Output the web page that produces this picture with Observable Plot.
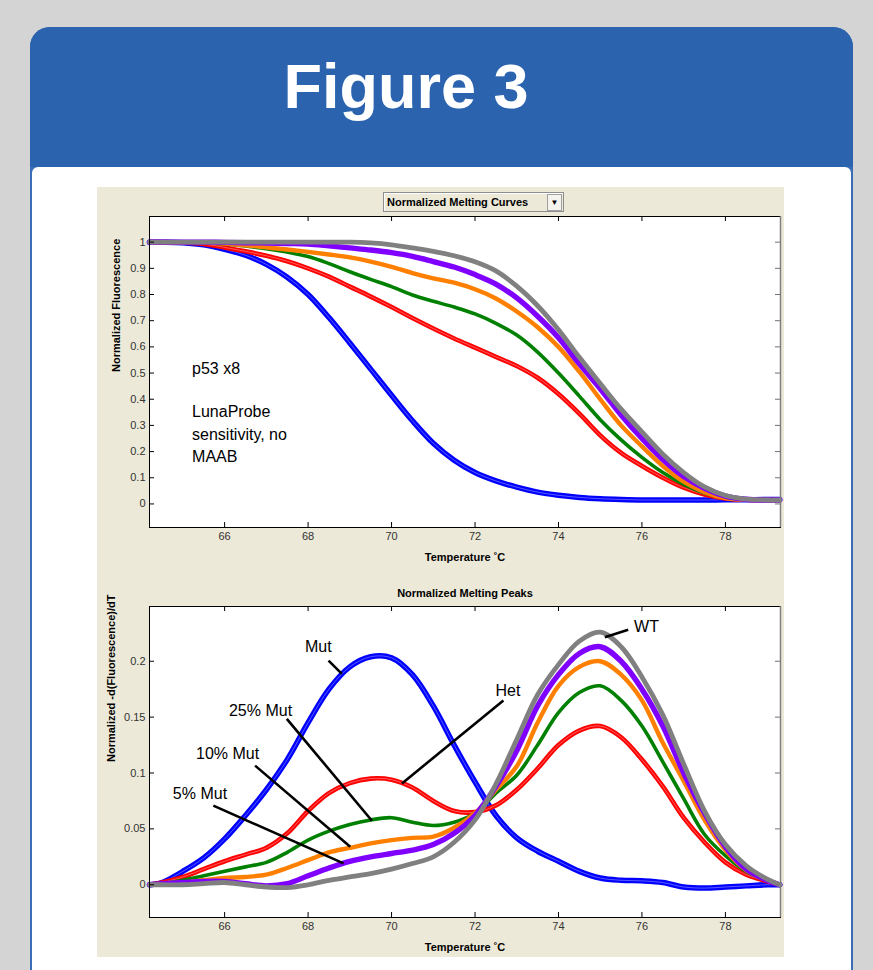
<!DOCTYPE html>
<html>
<head>
<meta charset="utf-8">
<script src="https://cdn.jsdelivr.net/npm/d3@7"></script>
<script src="https://cdn.jsdelivr.net/npm/@observablehq/plot@0.6"></script>
<style>
  html, body { margin:0; padding:0; }
  body { width:873px; height:970px; overflow:hidden; background:#d4d4d4; position:relative; font-family:"Liberation Sans", Arial, sans-serif; }
  #card { position:absolute; left:30px; top:27px; width:823px; height:1000px; background:#3a6db5; border-radius:20px 20px 0 0; overflow:hidden; }
  #head { position:absolute; left:0; top:0; width:823px; height:140px; background:#2b63ae; }
  #head .t { position:absolute; left:0; top:28px; width:752px; text-align:center; color:#fff; font-weight:bold; font-size:63px; line-height:63px; }
  #bodyw { position:absolute; left:2px; top:140px; width:819px; height:900px; background:#fff; border-radius:6px 6px 0 0; }
  #panel { position:absolute; left:97px; top:187px; width:687px; height:770px; background:#ece9d8; }
  #chartTop { position:absolute; left:97px; top:187px; }
  #chartBot { position:absolute; left:97px; top:580px; }
  #dd { position:absolute; left:383px; top:192px; width:179px; height:18px; border:1px solid #8d8d8d; box-shadow: inset 1px 1px 0 #fff; background:#ece9d8; font-weight:bold; font-size:11px; line-height:18px; color:#000; }
  #dd .lab { position:absolute; left:3px; top:0; }
  #dd .btn { position:absolute; right:1px; top:1px; width:13px; height:15px; border:1px solid #a0a0a0; background:#f4f3ee; font-size:8px; line-height:15px; text-align:center; }
</style>
</head>
<body>
<div id="card"><div id="head"><div class="t">Figure 3</div></div><div id="bodyw"></div></div>
<div id="panel"></div>
<div id="chartTop"></div>
<div id="chartBot"></div>
<div id="dd"><span class="lab">Normalized Melting Curves</span><span class="btn">&#9660;</span></div>
<script>
// ---------- data ----------
const temps = [64.2,64.5,65,65.5,66,66.5,67,67.5,68,68.5,69,69.5,70,70.5,71,71.5,72,72.5,73,73.5,74,74.5,75,75.5,76,76.5,77,77.5,78,78.5,79,79.3];
const seriesNames = ["Mut","Het","25% Mut","10% Mut","5% Mut","WT"];

// Normalized melting curves (fluorescence)
const meltMut  = [1,1,0.998,0.99,0.973,0.95,0.915,0.866,0.8,0.712,0.615,0.515,0.415,0.318,0.232,0.167,0.12,0.088,0.064,0.045,0.033,0.025,0.02,0.017,0.015,0.015,0.015,0.015,0.016,0.016,0.017,0.017];
const meltHet  = [1,1,0.998,0.993,0.98,0.965,0.948,0.927,0.9,0.868,0.83,0.792,0.752,0.71,0.67,0.632,0.597,0.562,0.527,0.482,0.42,0.345,0.262,0.195,0.145,0.1,0.062,0.036,0.021,0.016,0.015,0.015];
const melt25   = [1,1,1,0.998,0.993,0.985,0.975,0.962,0.945,0.918,0.887,0.858,0.83,0.798,0.774,0.752,0.726,0.69,0.645,0.58,0.5,0.412,0.322,0.245,0.178,0.12,0.075,0.042,0.023,0.016,0.015,0.015];
const melt10   = [1,1,1,0.999,0.995,0.988,0.98,0.972,0.963,0.953,0.942,0.926,0.906,0.882,0.862,0.845,0.82,0.785,0.735,0.675,0.6,0.505,0.4,0.3,0.22,0.145,0.085,0.045,0.022,0.016,0.015,0.015];
const melt5    = [1,1,1,1,0.999,0.998,0.997,0.995,0.993,0.986,0.978,0.97,0.96,0.946,0.926,0.905,0.876,0.84,0.787,0.717,0.635,0.535,0.44,0.34,0.25,0.17,0.105,0.06,0.03,0.018,0.015,0.015];
const meltWT   = [1,1,1,1,1,1,1,1,1,1,1,0.997,0.99,0.978,0.965,0.948,0.925,0.89,0.832,0.757,0.665,0.56,0.46,0.362,0.275,0.19,0.12,0.065,0.032,0.018,0.015,0.015];

// Normalized melting peaks (-dF/dT)
const peakMut  = [0,0.002,0.012,0.024,0.041,0.062,0.085,0.112,0.145,0.175,0.195,0.204,0.203,0.188,0.16,0.125,0.092,0.062,0.042,0.03,0.021,0.012,0.006,0.004,0.0035,0.002,-0.002,-0.003,-0.002,-0.001,0,0];
const peakHet  = [0,0.002,0.007,0.014,0.021,0.027,0.033,0.046,0.066,0.082,0.091,0.095,0.094,0.087,0.075,0.066,0.065,0.071,0.085,0.104,0.125,0.138,0.142,0.132,0.112,0.088,0.06,0.038,0.02,0.009,0.003,0];
const peak25   = [0,0.001,0.004,0.008,0.012,0.016,0.02,0.029,0.04,0.048,0.054,0.058,0.06,0.056,0.053,0.056,0.064,0.082,0.098,0.125,0.154,0.172,0.178,0.165,0.142,0.11,0.077,0.045,0.026,0.012,0.004,0];
const peak10   = [0,0.001,0.002,0.004,0.006,0.007,0.009,0.015,0.022,0.029,0.033,0.037,0.04,0.042,0.043,0.051,0.064,0.085,0.106,0.145,0.178,0.195,0.2,0.188,0.165,0.127,0.093,0.058,0.031,0.013,0.004,0];
const peak5    = [0,0.001,0.002,0.003,0.003,0.001,-0.001,0.001,0.008,0.015,0.021,0.025,0.028,0.031,0.036,0.046,0.062,0.088,0.12,0.16,0.188,0.207,0.213,0.2,0.175,0.142,0.1,0.064,0.034,0.014,0.004,0];
const peakWT   = [0,0,0,0.001,0.002,0,-0.002,-0.0025,0,0.004,0.007,0.01,0.014,0.019,0.025,0.038,0.058,0.09,0.13,0.17,0.197,0.218,0.226,0.213,0.186,0.152,0.108,0.066,0.036,0.017,0.005,0];

// ticks
const xTicks = [66,68,70,72,74,76,78];
const yTicksTop = [0,0.1,0.2,0.3,0.4,0.5,0.6,0.7,0.8,0.9,1];
const yTicksBot = [0,0.05,0.1,0.15,0.2];

// annotations (data coordinates)
const topNoteLabels = ["p53 x8","LunaProbe","sensitivity, no","MAAB"];
const topNoteT = [65.22,65.22,65.22,65.22];
const topNoteV = [0.497,0.331,0.245,0.159];

const botNoteLabels = ["Mut","25% Mut","10% Mut","5% Mut","Het","WT"];
const botNoteT = [68.245,66.86,66.07,65.41,72.79,76.11];
const botNoteV = [0.208,0.1514,0.1129,0.077,0.1693,0.226];
const leadT1 = [68.49,67.49,66.73,65.73,72.68,75.67];
const leadV1 = [0.2006,0.1484,0.1066,0.0708,0.1648,0.2281];
const leadT2 = [68.81,69.53,69.01,68.85,70.25,75.11];
const leadV2 = [0.1887,0.0573,0.034,0.0191,0.0907,0.2215];

// ---------- build ----------
const colorOf = {"Mut":"#0000ff","Het":"#ff0000","25% Mut":"#008000","10% Mut":"#ff8000","5% Mut":"#8000ff","WT":"#808080"};
const widthOf = {"Mut":5.5,"Het":4.6,"25% Mut":3.6,"10% Mut":4.4,"5% Mut":5.4,"WT":4.8};
const meltSets = [meltMut, meltHet, melt25, melt10, melt5, meltWT];
const peakSets = [peakMut, peakHet, peak25, peak10, peak5, peakWT];

function rowsFor(sets) {
  return seriesNames.map((name, k) => temps.map((T, i) => ({series: name, T, v: sets[k][i]})));
}
const meltRows = rowsFor(meltSets);
const peakRows = rowsFor(peakSets);

const W = 687, ML = 52, MR = 4;
const xDomain = [64.2, 79.32];

function lineMarks(rowsBySeries) {
  const marks = [];
  rowsBySeries.forEach(rows => {
    const name = rows[0].series;
    marks.push(Plot.line(rows, {x: "T", y: "v", stroke: colorOf[name], strokeWidth: widthOf[name], curve: "catmull-rom"}));
    if (name === "Mut" || name === "Het") {
      marks.push(Plot.line(rows, {x: "T", y: "v", stroke: "white", strokeOpacity: 0.5, strokeWidth: 0.7, curve: "catmull-rom"}));
    }
  });
  return marks;
}

function frameMarks(H, MT, MB, yTicks) {
  const pw = W - ML - MR, ph = H - MT - MB;
  const fmt = d => String(d);
  return [
    Plot.ruleX(xTicks, {x: d => d, stroke: "black", insetTop: ph - 5}),
    Plot.ruleX(xTicks, {x: d => d, stroke: "black", insetBottom: ph - 5}),
    Plot.ruleY(yTicks, {y: d => d, stroke: "black", insetRight: pw - 5}),
    Plot.ruleY(yTicks, {y: d => d, stroke: "#707070", insetLeft: pw - 5}),
    Plot.frame({stroke: "black"}),
    Plot.ruleX([xDomain[1]], {stroke: "#808080", strokeWidth: 1.5}),
    Plot.axisX(xTicks, {anchor: "bottom", tickSize: 0, tickPadding: 5, tickFormat: fmt, label: null, fill: "#333"}),
    Plot.axisY(yTicks, {anchor: "left", tickSize: 0, tickPadding: 4, tickFormat: fmt, label: null, fill: "#333"})
  ];
}

const style = {background: "transparent", fontFamily: "Liberation Sans, Arial, sans-serif", fontSize: "11px", overflow: "visible"};

// Top chart
const HT = 393, MTT = 29, MBT = 53;
const topChart = Plot.plot({
  width: W, height: HT, marginLeft: ML, marginRight: MR, marginTop: MTT, marginBottom: MBT,
  style,
  x: {domain: xDomain},
  y: {domain: [-0.09, 1.098]},
  marks: [
    Plot.frame({fill: "white", stroke: null}),
    ...lineMarks(meltRows),
    ...frameMarks(HT, MTT, MBT, yTicksTop),
    Plot.text(topNoteLabels, {x: (d, i) => topNoteT[i], y: (d, i) => topNoteV[i], text: d => d, textAnchor: "start", lineAnchor: "bottom", fontSize: 16, fill: "black"}),
    Plot.text(["Temperature ˚C"], {frameAnchor: "bottom", dy: 30, lineAnchor: "middle", fontWeight: "bold", fontSize: 11, fill: "black"}),
    Plot.text(["Normalized Fluorescence"], {frameAnchor: "left", dx: -33, rotate: -90, lineAnchor: "middle", fontWeight: "bold", fontSize: 11, fill: "black"})
  ]
});
document.getElementById("chartTop").appendChild(topChart);

// Bottom chart
const HB = 377, MTB = 26, MBB = 40;
const botChart = Plot.plot({
  width: W, height: HB, marginLeft: ML, marginRight: MR, marginTop: MTB, marginBottom: MBB,
  style,
  x: {domain: xDomain},
  y: {domain: [-0.0293, 0.249]},
  marks: [
    Plot.frame({fill: "white", stroke: null}),
    ...lineMarks(peakRows),
    ...frameMarks(HB, MTB, MBB, yTicksBot),
    Plot.link(botNoteLabels, {x1: (d, i) => leadT1[i], y1: (d, i) => leadV1[i], x2: (d, i) => leadT2[i], y2: (d, i) => leadV2[i], stroke: "black", strokeWidth: 2.6}),
    Plot.text(botNoteLabels, {x: (d, i) => botNoteT[i], y: (d, i) => botNoteV[i], text: d => d, textAnchor: "middle", lineAnchor: "bottom", fontSize: 16, fill: "black"}),
    Plot.text(["Normalized Melting Peaks"], {frameAnchor: "top", dy: -13, lineAnchor: "middle", fontWeight: "bold", fontSize: 11, fill: "black"}),
    Plot.text(["Temperature ˚C"], {frameAnchor: "bottom", dy: 30, lineAnchor: "middle", fontWeight: "bold", fontSize: 11, fill: "black"}),
    Plot.text(["Normalized -d(Fluorescence)/dT"], {frameAnchor: "left", dx: -38, rotate: -90, lineAnchor: "middle", fontWeight: "bold", fontSize: 11, fill: "black"})
  ]
});
document.getElementById("chartBot").appendChild(botChart);
</script>
</body>
</html>
